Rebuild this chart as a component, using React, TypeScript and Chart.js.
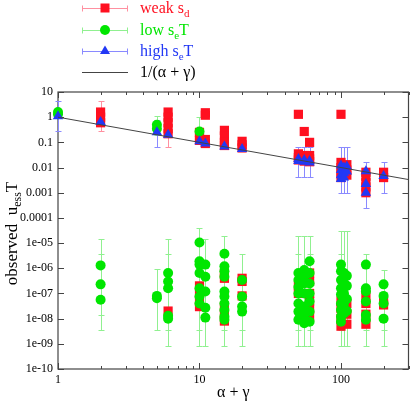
import { useEffect, useRef } from "react";
import { Chart, registerables } from "chart.js";

Chart.register(...registerables);

const FONT = "'Liberation Serif', 'Times New Roman', serif";

// ---- axis ticks ----
const xTickValues = [1, 10, 100];
const xMinorTicks = [2, 3, 4, 5, 6, 7, 8, 9, 20, 30, 40, 50, 60, 70, 80, 90, 200, 300];
const yTickValues = [1e-10, 1e-9, 1e-8, 1e-7, 1e-6, 1e-5, 1e-4, 1e-3, 1e-2, 1e-1, 1, 10];
const yTickLabels = ["1e-10", "1e-09", "1e-08", "1e-07", "1e-06", "1e-05", "0.0001", "0.001", "0.01", "0.1", "1", "10"];

// ---- weak s_d (red squares) ----
const weakCats = [2, 6, 10, 11, 15, 20, 50, 55, 60, 100, 110, 150, 200, 6, 10, 15, 20, 50, 60, 100, 110, 150, 200];
const weakVals = [
  [1.6, 1.0, 0.6],
  [1.6, 1.0, 0.6, 0.35, 0.22],
  [0.25, 0.15, 0.12],
  [1.5, 1.2, 0.13, 0.09],
  [0.3, 0.18, 0.1, 0.075],
  [0.11, 0.08, 0.06],
  [1.3, 0.035, 0.025, 0.02],
  [0.27, 0.03, 0.022, 0.018],
  [0.1, 0.03, 0.022, 0.017],
  [1.3, 0.016, 0.01, 0.006, 0.004],
  [0.013, 0.008, 0.005],
  [0.0065, 0.0045, 0.0025, 0.0017, 0.001],
  [0.0065, 0.004],
  [2e-8],
  [2e-7, 1e-7, 5e-8, 3e-8],
  [6.5e-7, 4e-7, 3e-8, 1.5e-8, 8e-9],
  [4e-7, 3e-7, 8e-8],
  [2e-7, 1e-7],
  [6.5e-7, 3e-7, 1e-7, 5e-8, 2.5e-8, 1.2e-8],
  [5e-8, 2.5e-8, 1e-8, 5e-9],
  [4e-8, 1.5e-8, 6e-9],
  [9e-8, 4e-8, 1.5e-8, 6e-9],
  [5e-8, 3.5e-8],
];
const weakBarX = [2, 6];
const weakBarLo = [0.28, 0.066];
const weakBarHi = [4.5, 0.7];

// ---- low s_eT (green circles) ----
const lowCats = [1, 5, 10, 2, 5, 6, 10, 11, 15, 20, 50, 55, 60, 100, 105, 110, 150, 200];
const lowVals = [
  [1.6, 1.3],
  [0.5, 0.35],
  [0.27],
  [1.3e-6, 2.3e-7, 5.6e-8],
  [8e-8, 6.5e-8],
  [6.5e-7, 3e-7, 1.6e-7, 1.3e-8, 1e-8],
  [1.05e-5, 1.9e-6, 1.4e-6, 6.5e-7, 1.6e-7, 7.5e-8, 4e-8],
  [1.4e-6, 4.6e-7, 1.2e-7, 2.7e-8, 1.1e-8],
  [3.8e-6, 1.2e-6, 7.6e-7, 4.6e-7, 1.2e-7, 7.5e-8, 4e-8, 2.2e-8, 1.2e-8, 9e-9],
  [3.4e-7, 7.5e-8, 3e-8, 1.9e-8],
  [6.5e-7, 3.4e-7, 1.8e-7, 1e-7, 4e-8, 1.9e-8, 9e-9],
  [8.6e-7, 4.6e-7, 2.5e-7, 1e-7, 3e-8, 1.4e-8, 6.6e-9],
  [1.9e-6, 6.5e-7, 2.5e-7, 1e-7, 4.8e-8, 1.9e-8, 7.6e-9],
  [1.4e-6, 7.6e-7, 3.4e-7, 1.6e-7, 9e-8, 4e-8, 2.2e-8, 1.2e-8, 7.6e-9],
  [6.5e-7, 2.5e-7, 1e-7, 4e-8, 1.6e-8],
  [5e-7, 2e-7, 6e-8, 2e-8],
  [1.4e-6, 1.6e-7, 1.2e-7, 4.8e-8, 1.4e-8, 9e-9],
  [2.3e-7, 8e-8, 4e-8, 1e-8],
];
const lowBarX = [1, 5, 10, 2, 2, 5, 6, 6, 10, 10, 11, 15, 15, 20, 20, 50, 50, 55, 60, 60, 100, 100, 105, 110, 150, 150, 200, 200];
const lowBarLo = [1.2, 0.2, 0.1, 3.6e-9, 1.4e-8, 3.6e-9, 8e-10, 3.6e-9, 8e-10, 3.6e-9, 8e-10, 8e-10, 3.6e-9, 8e-10, 3.6e-9, 8e-10, 3.6e-9, 8e-10, 8e-10, 3.6e-9, 8e-10, 3.6e-9, 8e-10, 8e-10, 8e-10, 3.6e-9, 8e-10, 3.6e-9];
const lowBarHi = [2.2, 1.1, 1.05, 1.4e-5, 3.8e-6, 9e-7, 1.4e-5, 3.8e-6, 4e-5, 1.4e-5, 1.4e-5, 2e-5, 3.8e-6, 3.8e-6, 3e-7, 2e-5, 3.8e-6, 2e-5, 2e-5, 3.8e-6, 3e-5, 3.8e-6, 3e-5, 3e-5, 3.8e-6, 1e-6, 8.6e-7, 2.3e-7];

// ---- high s_eT (blue triangles) ----
const highCats = [1, 2, 5, 6, 10, 11, 15, 20, 50, 55, 60, 100, 105, 110, 150, 200];
const highVals = [
  [1.1],
  [0.65],
  [0.25],
  [0.2],
  [0.11],
  [0.09],
  [0.068],
  [0.055],
  [0.022, 0.018],
  [0.02, 0.017],
  [0.018, 0.016],
  [0.012, 0.008, 0.005, 0.0035],
  [0.01, 0.006, 0.004],
  [0.011, 0.007],
  [0.0072, 0.0022, 0.001],
  [0.0046],
];
const highBarX = [1, 5, 50, 55, 60, 100, 105, 110, 150, 200];
const highBarLo = [0.28, 0.068, 0.0044, 0.0044, 0.0044, 0.001, 0.001, 0.001, 0.00025, 0.001];
const highBarHi = [4.4, 0.77, 0.068, 0.068, 0.068, 0.068, 0.068, 0.068, 0.017, 0.017];

// ---- 1/(alpha+gamma) ----
const lineX = [1, 300];
const lineY = [1, 1 / 300];

const RED = "#ff1020";
const GREEN = "#00e600";
const BLUE = "#2238f5";
const RED_BAR = "#ff90a0";
const GREEN_BAR = "#90f090";
const BLUE_BAR = "#8a8aff";

const toPoints = (cats: number[], vals: number[][]) =>
  cats.flatMap((c, i) => vals[i].map((v) => ({ x: c, y: v })));

type Part = [string, boolean];

function richWidth(ctx: CanvasRenderingContext2D, parts: Part[], size: number) {
  let w = 0;
  for (const [t, sub] of parts) {
    ctx.font = `${sub ? Math.round(size * 0.7) : size}px ${FONT}`;
    w += ctx.measureText(t).width;
  }
  return w;
}

function drawRich(ctx: CanvasRenderingContext2D, parts: Part[], x: number, y: number, size: number, color: string) {
  ctx.fillStyle = color;
  ctx.textBaseline = "alphabetic";
  ctx.textAlign = "left";
  let cx = x;
  for (const [t, sub] of parts) {
    ctx.font = `${sub ? Math.round(size * 0.7) : size}px ${FONT}`;
    ctx.fillText(t, cx, sub ? y + size * 0.25 : y);
    cx += ctx.measureText(t).width;
  }
}

const barSets = [
  { x: weakBarX, lo: weakBarLo, hi: weakBarHi, color: RED_BAR },
  { x: lowBarX, lo: lowBarLo, hi: lowBarHi, color: GREEN_BAR },
  { x: highBarX, lo: highBarLo, hi: highBarHi, color: BLUE_BAR },
];

const decorPlugin = {
  id: "decor",
  beforeDatasetsDraw(chart: any) {
    const { ctx, chartArea: a, scales } = chart;
    const xs = scales.x;
    const ys = scales.y;
    ctx.save();
    // frame
    ctx.strokeStyle = "#444";
    ctx.lineWidth = 1.2;
    ctx.strokeRect(a.left, a.top, a.right - a.left, a.bottom - a.top);
    // ticks
    ctx.lineWidth = 1;
    ctx.beginPath();
    for (const v of yTickValues) {
      const py = Math.round(ys.getPixelForValue(v)) + 0.5;
      ctx.moveTo(a.left, py);
      ctx.lineTo(a.left + 6, py);
      ctx.moveTo(a.right, py);
      ctx.lineTo(a.right - 6, py);
    }
    for (const v of xTickValues) {
      const px = Math.round(xs.getPixelForValue(v)) + 0.5;
      ctx.moveTo(px, a.bottom);
      ctx.lineTo(px, a.bottom - 6);
      ctx.moveTo(px, a.top);
      ctx.lineTo(px, a.top + 6);
    }
    for (const v of xMinorTicks) {
      const px = Math.round(xs.getPixelForValue(v)) + 0.5;
      ctx.moveTo(px, a.bottom);
      ctx.lineTo(px, a.bottom - 3);
      ctx.moveTo(px, a.top);
      ctx.lineTo(px, a.top + 3);
    }
    ctx.stroke();
    // error bars
    for (const s of barSets) {
      ctx.strokeStyle = s.color;
      ctx.lineWidth = 1;
      ctx.beginPath();
      s.x.forEach((xv, i) => {
        const px = Math.round(xs.getPixelForValue(xv)) + 0.5;
        const p1 = Math.round(ys.getPixelForValue(s.lo[i])) + 0.5;
        const p2 = Math.round(ys.getPixelForValue(s.hi[i])) + 0.5;
        ctx.moveTo(px, p1);
        ctx.lineTo(px, p2);
        ctx.moveTo(px - 3, p1);
        ctx.lineTo(px + 3, p1);
        ctx.moveTo(px - 3, p2);
        ctx.lineTo(px + 3, p2);
      });
      ctx.stroke();
    }
    ctx.restore();
  },
  afterDraw(chart: any) {
    const { ctx, chartArea: a } = chart;
    ctx.save();
    // legend
    const rows = [
      { y: 8, bar: RED_BAR, mark: "sq", color: RED, parts: [["weak s", false], ["d", true]] as Part[] },
      { y: 30, bar: GREEN_BAR, mark: "ci", color: GREEN, parts: [["low s", false], ["e", true], ["T", false]] as Part[] },
      { y: 51, bar: BLUE_BAR, mark: "tr", color: BLUE, parts: [["high s", false], ["e", true], ["T", false]] as Part[] },
      { y: 72, bar: "#444", mark: "", color: "#000", parts: [["1/(\u03b1 + \u03b3)", false]] as Part[] },
    ];
    for (const r of rows) {
      const yy = r.y + 0.5;
      ctx.strokeStyle = r.bar;
      ctx.lineWidth = 1;
      ctx.beginPath();
      ctx.moveTo(82, yy);
      ctx.lineTo(128, yy);
      if (r.mark) {
        ctx.moveTo(82.5, yy - 3);
        ctx.lineTo(82.5, yy + 3);
        ctx.moveTo(127.5, yy - 3);
        ctx.lineTo(127.5, yy + 3);
      }
      ctx.stroke();
      ctx.fillStyle = r.color;
      if (r.mark === "sq") ctx.fillRect(105 - 4.5, r.y - 4.5, 9, 9);
      if (r.mark === "ci") {
        ctx.beginPath();
        ctx.arc(105, r.y, 5, 0, Math.PI * 2);
        ctx.fill();
      }
      if (r.mark === "tr") {
        ctx.beginPath();
        ctx.moveTo(105, r.y - 5.5);
        ctx.lineTo(105 + 5, r.y + 3);
        ctx.lineTo(105 - 5, r.y + 3);
        ctx.closePath();
        ctx.fill();
      }
      drawRich(ctx, r.parts, 140, r.y + 5, 16, r.color);
    }
    // x title
    const xParts: Part[] = [["\u03b1 + \u03b3", false]];
    const xw = richWidth(ctx, xParts, 16);
    drawRich(ctx, xParts, (a.left + a.right) / 2 - xw / 2, 397, 16, "#000");
    // y title
    const yParts: Part[] = [["observed  u", false], ["ess", true], ["T", false]];
    const yw = richWidth(ctx, yParts, 17);
    ctx.translate(17, (a.top + a.bottom) / 2 + 3);
    ctx.rotate(-Math.PI / 2);
    drawRich(ctx, yParts, -yw / 2, 0, 17, "#000");
    ctx.restore();
  },
};

export default function App() {
  const ref = useRef<HTMLCanvasElement | null>(null);
  useEffect(() => {
    if (!ref.current) return;
    const chart = new Chart(ref.current, {
      type: "scatter",
      data: {
        datasets: [
          {
            type: "line",
            label: "1/(\u03b1 + \u03b3)",
            data: lineX.map((x, i) => ({ x, y: lineY[i] })),
            borderColor: "#444",
            borderWidth: 1,
            pointRadius: 0,
            showLine: true,
            fill: false,
          } as any,
          {
            label: "high seT",
            data: toPoints(highCats, highVals),
            pointStyle: "triangle",
            pointRadius: 6,
            backgroundColor: BLUE,
            borderColor: BLUE,
            borderWidth: 0,
            clip: false,
          },
          {
            label: "low seT",
            data: toPoints(lowCats, lowVals),
            pointStyle: "circle",
            pointRadius: 5,
            backgroundColor: GREEN,
            borderColor: GREEN,
            borderWidth: 0,
            clip: false,
          },
          {
            label: "weak sd",
            data: toPoints(weakCats, weakVals),
            pointStyle: "rect",
            pointRadius: 6.5,
            backgroundColor: RED,
            borderColor: RED,
            borderWidth: 0,
            clip: false,
          },
        ],
      },
      options: {
        animation: false,
        responsive: false,
        maintainAspectRatio: false,
        events: [],
        layout: { padding: { top: 92, right: 3, left: 0, bottom: 0 } },
        plugins: { legend: { display: false }, tooltip: { enabled: false } },
        scales: {
          x: {
            type: "logarithmic",
            min: 1,
            max: 300,
            position: "bottom",
            afterBuildTicks: (s: any) => {
              s.ticks = xTickValues.map((v) => ({ value: v }));
            },
            afterFit: (s: any) => {
              s.height = 37;
            },
            grid: { display: false, drawTicks: false },
            border: { display: false },
            ticks: {
              autoSkip: false,
              maxRotation: 0,
              padding: 4,
              color: "#000",
              font: { family: FONT, size: 12 },
              callback: (v: any) => String(v),
            },
          },
          y: {
            type: "logarithmic",
            min: 1e-10,
            max: 10,
            afterBuildTicks: (s: any) => {
              s.ticks = yTickValues.map((v) => ({ value: v }));
            },
            afterFit: (s: any) => {
              s.width = 58;
            },
            grid: { display: false, drawTicks: false },
            border: { display: false },
            ticks: {
              autoSkip: false,
              padding: 5,
              color: "#000",
              font: { family: FONT, size: 12 },
              callback: (v: any) => yTickLabels[Math.round(Math.log10(Number(v))) + 10],
            },
          },
        },
      },
      plugins: [decorPlugin],
    });
    return () => chart.destroy();
  }, []);
  return (
    <div style={{ position: "absolute", left: 0, top: 0, width: 415, height: 406, background: "#fff" }}>
      <canvas ref={ref} width={415} height={406} style={{ display: "block" }} />
    </div>
  );
}
